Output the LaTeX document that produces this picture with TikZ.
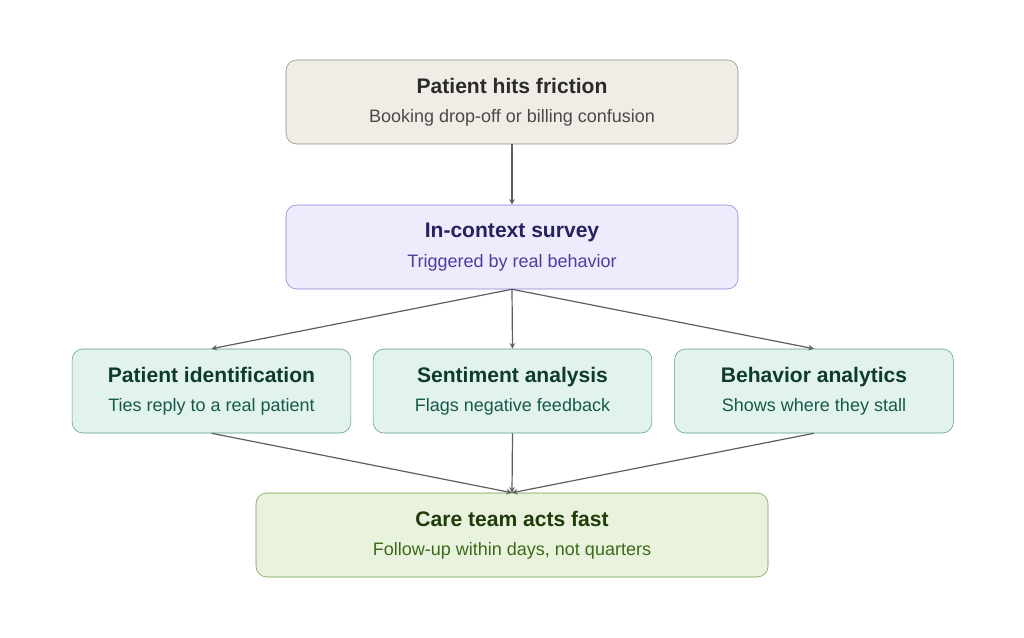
\documentclass[tikz,border=0pt]{standalone}
\usepackage{fontspec}
\setmainfont{Liberation Sans}
\definecolor{frictionfill}{HTML}{F0EDE6}
\definecolor{frictiondraw}{HTML}{8C8A86}
\definecolor{frictiontitle}{HTML}{2B2B2B}
\definecolor{frictionsub}{HTML}{4A4A48}
\definecolor{surveyfill}{HTML}{EDEBFC}
\definecolor{surveydraw}{HTML}{8B80D9}
\definecolor{surveytitle}{HTML}{27235E}
\definecolor{surveysub}{HTML}{4A3FA0}
\definecolor{insightfill}{HTML}{E1F3EC}
\definecolor{insightdraw}{HTML}{5A9E80}
\definecolor{insighttitle}{HTML}{0E3B2E}
\definecolor{insightsub}{HTML}{17594A}
\definecolor{actfill}{HTML}{E9F2DD}
\definecolor{actdraw}{HTML}{6E9E4A}
\definecolor{acttitle}{HTML}{1F3B0A}
\definecolor{actsub}{HTML}{3A6A1A}
\definecolor{flowline}{HTML}{5E5E5E}
\newcommand{\boxtext}[4]{{\color{#1}\bfseries\fontsize{15.8}{22}\selectfont #2}\\{\color{#3}#4}}
\begin{document}
\begin{tikzpicture}[x=0.75pt,y=-0.75pt,>=stealth,
	card/.style={rectangle,rounded corners=8pt,align=center,inner sep=0pt,minimum height=63pt,
		font=\fontsize{13.5}{22}\selectfont},
	frictionbox/.style={card,fill=frictionfill,draw=frictiondraw,minimum width=339pt},
	surveybox/.style={card,fill=surveyfill,draw=surveydraw,minimum width=339pt},
	insightbox/.style={card,fill=insightfill,draw=insightdraw,minimum width=209pt},
	actbox/.style={card,fill=actfill,draw=actdraw,minimum width=384pt},
	flow/.style={->,draw=flowline,line width=0.9pt}]
	% Khung nền
	\useasboundingbox (0,0) rectangle (1024,638);
	% Các hộp
	\node[frictionbox] (friction) at (512,102) {\boxtext{frictiontitle}{Patient hits friction}{frictionsub}{Booking drop-off or billing confusion}};
	\node[surveybox] (survey) at (512,247) {\boxtext{surveytitle}{In-context survey}{surveysub}{Triggered by real behavior}};
	\node[insightbox] (ident) at (211.5,391) {\boxtext{insighttitle}{Patient identification}{insightsub}{Ties reply to a real patient}};
	\node[insightbox] (senti) at (512.5,391) {\boxtext{insighttitle}{Sentiment analysis}{insightsub}{Flags negative feedback}};
	\node[insightbox] (behav) at (814,391) {\boxtext{insighttitle}{Behavior analytics}{insightsub}{Shows where they stall}};
	\node[actbox] (act) at (512,535) {\boxtext{acttitle}{Care team acts fast}{actsub}{Follow-up within days, not quarters}};
	% Mũi tên
	\draw[flow] (friction.south) -- (survey.north);
	\draw[flow] (survey.south) -- (ident.north);
	\draw[flow] (survey.south) -- (senti.north);
	\draw[flow] (survey.south) -- (behav.north);
	\draw[flow] (ident.south) -- (act.north);
	\draw[flow] (senti.south) -- (act.north);
	\draw[flow] (behav.south) -- (act.north);
\end{tikzpicture}
\end{document}
